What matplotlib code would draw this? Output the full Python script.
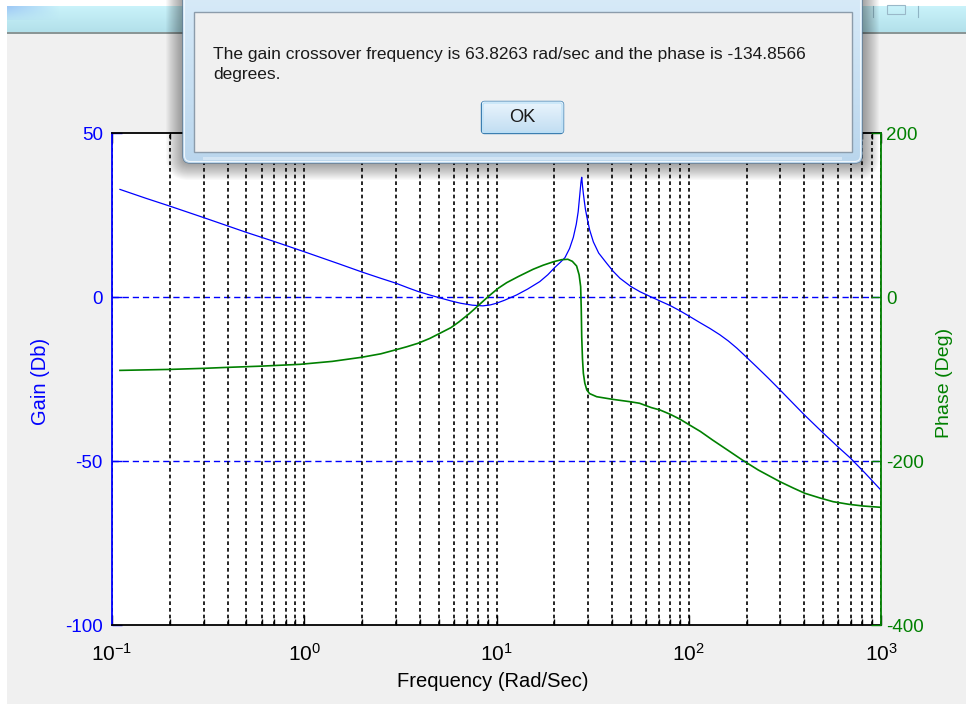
import matplotlib
matplotlib.use("Agg")
import numpy as np
import matplotlib.pyplot as plt
from matplotlib.patches import Rectangle, FancyBboxPatch
from matplotlib.ticker import FixedLocator, LogLocator, NullFormatter

# Open-loop frequency response (rad/s, dB, degrees)
freq_gain = [0.11, 0.15, 0.2, 0.3, 0.5, 0.7, 1.0, 1.5, 2.0, 2.5, 3.0, 3.5,
             3.9, 4.5, 5.1, 5.8, 6.5, 7.5, 8.5, 9.3, 10.0, 11.0, 12.7, 14.5,
             16.8, 18.5, 20.1, 21.5, 22.7, 24.0, 25.1, 26.0, 26.6, 27.1,
             27.5, 27.75, 28.0, 28.3, 28.6, 29.0, 29.5, 30.5, 31.9, 34.0,
             37.4, 40.5, 43.9, 50.0, 55.8, 63.83, 72.0, 80.0, 90.0, 101.5,
             115.0, 129.0, 145.0, 160.6, 178.0, 196.0, 225.6, 260.0, 298.0,
             350.0, 402.0, 501.0, 600.0, 690.0, 830.0, 1000.0]
gain_db = [32.8, 30.1, 27.7, 24.2, 19.7, 16.9, 13.8, 10.2, 7.6, 5.7, 4.2,
           2.7, 1.7, 0.6, -0.3, -1.2, -1.9, -2.5, -2.7, -2.4, -1.9, -1.0,
           0.6, 2.4, 4.7, 6.8, 9.0, 10.6, 12.0, 14.8, 18.2, 22.2, 26.0,
           31.0, 35.0, 36.5, 34.0, 31.5, 29.4, 26.8, 24.5, 20.5, 16.8, 13.4,
           10.3, 7.8, 5.7, 3.2, 1.6, 0.0, -1.4, -2.6, -4.2, -6.0, -7.9,
           -9.6, -11.5, -13.4, -15.6, -17.9, -21.3, -24.8, -28.3, -32.5,
           -36.1, -41.5, -45.8, -49.0, -53.8, -58.9]

freq_phase = [0.11, 0.2, 0.3, 0.4, 0.6, 0.95, 1.4, 1.99, 2.5, 2.97, 3.4,
              3.9, 4.5, 5.1, 5.8, 6.4, 7.2, 8.1, 9.0, 10.2, 11.3, 13.0,
              15.5, 17.5, 19.8, 21.8, 23.5, 24.8, 26.1, 26.9, 27.4, 27.6,
              27.75, 28.0, 28.3, 28.8, 29.5, 30.5, 33.2, 40.2, 49.5, 55.5,
              63.83, 70.9, 80.0, 90.0, 101.0, 115.0, 133.0, 160.0, 190.0,
              230.0, 298.0, 350.0, 402.0, 480.0, 563.0, 680.0, 808.0, 1000.0]
phase_deg = [-89.5, -88.3, -87.0, -85.8, -84.3, -82.1, -78.5, -73.5, -69.3,
             -64.6, -60.8, -56.5, -50.5, -44.0, -37.3, -30.1, -20.5, -9.8,
             0.0, 10.6, 17.5, 25.0, 33.8, 38.8, 43.0, 45.5, 46.0, 43.5, 37.8,
             27.0, 12.6, -15.0, -48.4, -75.0, -93.0, -105.0, -113.4, -117.8,
             -121.6, -124.8, -127.7, -129.6, -134.86, -137.8, -143.0, -149.0,
             -156.1, -164.0, -174.4, -187.0, -198.8, -211.0, -225.2, -233.0,
             -239.4, -245.0, -249.6, -252.8, -254.9, -256.5]

gain_ticks = [-100, -50, 0, 50]
phase_ticks = [-400, -200, 0, 200]
decades = [0.1, 1, 10, 100, 1000]

message = ["The gain crossover frequency is 63.8263 rad/sec and the phase is -134.8566",
           "degrees."]
button_text = "OK"

BLUE = "#0000ff"
GREEN = "#008000"
BG = "#f0f0f0"

plt.rcParams["font.family"] = ["Liberation Sans", "DejaVu Sans"]
plt.rcParams["mathtext.fontset"] = "custom"
plt.rcParams["mathtext.rm"] = "Liberation Sans"
plt.rcParams["mathtext.it"] = "Liberation Sans:italic"
plt.rcParams["mathtext.bf"] = "Liberation Sans:bold"
plt.rcParams["axes.unicode_minus"] = False

W, H = 966, 704
fig = plt.figure(figsize=(W / 100, H / 100), dpi=100, facecolor=BG)

# ---- gain axes (left) ----
ax = fig.add_axes([112 / W, 1 - 625 / H, 769 / W, 492 / H])
ax.set_xscale("log")
ax.set_xlim(0.1, 1000)
ax.set_ylim(-100, 50)
ax.xaxis.set_major_locator(FixedLocator(decades))
ax.xaxis.set_minor_locator(LogLocator(base=10, subs=range(2, 10), numticks=20))
ax.xaxis.set_minor_formatter(NullFormatter())
ax.set_yticks(gain_ticks)

# vertical grid at every decade and sub-decade, horizontal grid at interior gain ticks
ax.grid(True, which="both", axis="x", color="k", linestyle=(0, (2.2, 1.8)), lw=1.2)
for g in gain_ticks[1:-1]:
    ax.axhline(g, color=BLUE, linestyle=(0, (4.5, 2.8)), lw=1.0, zorder=1.5)

ax.tick_params(axis="x", which="both", direction="in", top=True, bottom=True,
               colors="k", labelsize=15, pad=13, width=1)
ax.tick_params(axis="x", which="major", length=7)
ax.tick_params(axis="x", which="minor", length=4)
ax.tick_params(axis="y", which="both", direction="in", left=True, right=False,
               color=BLUE, labelcolor=BLUE, labelsize=13.5, pad=6.5, length=7, width=1)

for side in ("top", "bottom"):
    ax.spines[side].set_color("k")
    ax.spines[side].set_linewidth(1.3)
ax.spines["left"].set_color(BLUE)
ax.spines["left"].set_linewidth(1.3)
ax.spines["right"].set_visible(False)

ax.plot(freq_gain, gain_db, color=BLUE, lw=0.9)

ax.set_xlabel("Frequency (Rad/Sec)", fontsize=14.5, va="center")
ax.xaxis.set_label_coords(0.4954, -0.114)
ax.set_ylabel("Gain (Db)", fontsize=14.5, color=BLUE, va="center")
ax.yaxis.set_label_coords(-0.093, 0.496)

# ---- phase axes (right) ----
ax2 = ax.twinx()
ax2.set_ylim(-400, 200)
ax2.set_yticks(phase_ticks)
ax2.tick_params(axis="y", direction="in", color=GREEN, labelcolor=GREEN,
                labelsize=13.5, pad=3.5, length=7, width=1)
for side in ("top", "bottom", "left"):
    ax2.spines[side].set_visible(False)
ax2.spines["right"].set_color(GREEN)
ax2.spines["right"].set_linewidth(1.3)
ax2.plot(freq_phase, phase_deg, color=GREEN, lw=1.2)
ax2.set_ylabel("Phase (Deg)", fontsize=14, color=GREEN, va="center", rotation=90)
ax2.yaxis.set_label_coords(1.082, 0.492)

# ---- window chrome and message box drawn on a pixel-space overlay ----
ov = fig.add_axes([0, 0, 1, 1], zorder=20)
ov.set_xlim(0, W)
ov.set_ylim(H, 0)
ov.axis("off")
ov.patch.set_visible(False)

# window border strips
ov.add_patch(Rectangle((0, 0), 7, H, facecolor="white", edgecolor="none", zorder=1))
ov.add_patch(Rectangle((0, 0), W, 6, facecolor="white", edgecolor="none", zorder=1))

# title bar of the figure window
grad = np.linspace(0, 1, 64)[:, None]
top_c = np.array([0.79, 0.95, 0.98])
bot_c = np.array([0.70, 0.88, 0.92])
bar = top_c[None, None, :] * (1 - grad[..., None]) + bot_c[None, None, :] * grad[..., None]
bar = np.repeat(bar, 4, axis=1)
ov.imshow(bar, extent=(7, W, 32, 6), aspect="auto", zorder=2, interpolation="bilinear")
glow = np.zeros((8, 32, 4))
glow[..., 0], glow[..., 1], glow[..., 2] = 0.55, 0.72, 0.96
glow[..., 3] = np.linspace(0.7, 0, 32)[None, :] * np.linspace(1, 0.2, 8)[:, None]
ov.imshow(glow, extent=(7, 60, 20, 6), aspect="auto", zorder=2.1, interpolation="bilinear")
ov.add_patch(Rectangle((7, 32), W - 7, 2, facecolor="#8a9696", edgecolor="none", zorder=3))
for xv in (873, 918):
    ov.plot([xv, xv], [6, 17], color="#8fb4c4", lw=0.8, zorder=3)
ov.add_patch(Rectangle((887, 5), 18, 9, facecolor="none", edgecolor="#9ab8c8", lw=0.8, zorder=3))

# soft shadow around the dialog
dx0, dx1, dy1 = 183, 862, 163
for k in range(1, 18):
    ov.add_patch(FancyBboxPatch((dx0 - k, -30), (dx1 - dx0) + 2 * k, dy1 + 30 + k,
                                boxstyle="round,pad=0,rounding_size=%d" % (6 + k),
                                facecolor="black", edgecolor="none", alpha=0.022, zorder=4))

# dialog frame (glass)
frame = FancyBboxPatch((dx0, -30), dx1 - dx0, dy1 + 30,
                       boxstyle="round,pad=0,rounding_size=7",
                       facecolor="#c8def0", edgecolor="#5f7d98", lw=1.0, zorder=5)
ov.add_patch(frame)
fg = np.linspace(0, 1, 64)[:, None]
fc_top = np.array([0.86, 0.93, 0.98])
fc_bot = np.array([0.73, 0.84, 0.93])
fimg = fc_top[None, None, :] * (1 - fg[..., None]) + fc_bot[None, None, :] * fg[..., None]
fimg = np.repeat(fimg, 4, axis=1)
im = ov.imshow(fimg, extent=(dx0, dx1, dy1, -30), aspect="auto", zorder=5.1,
               interpolation="bilinear")
im.set_clip_path(frame)
ov.add_patch(FancyBboxPatch((dx0 + 1.5, -30), dx1 - dx0 - 3, dy1 + 28.5,
                            boxstyle="round,pad=0,rounding_size=6",
                            facecolor="none", edgecolor="#eef6fc", lw=0.8, zorder=5.2))
ov.add_patch(Rectangle((dx0 + 20, 157), dx1 - dx0 - 40, 3, facecolor="#e4f0fa",
                       edgecolor="none", alpha=0.6, zorder=5.2))

# dialog client area
ov.add_patch(Rectangle((193.5, 11.5), 658, 140, facecolor=BG, edgecolor="#8c9cab",
                       lw=1.0, zorder=6))

# message text, fitted to the client area width
fig.canvas.draw()
renderer = fig.canvas.get_renderer()
t1 = ov.text(213, 55, message[0], fontsize=10, color="#1a1a1a", va="center",
             ha="left", zorder=7)
w1 = t1.get_window_extent(renderer).width
fs = 10 * 593 / w1
t1.set_fontsize(fs)
ov.text(213, 75, message[1], fontsize=fs, color="#1a1a1a", va="center",
        ha="left", zorder=7)

# OK button
btn = FancyBboxPatch((481.5, 101.5), 82, 32, boxstyle="round,pad=0,rounding_size=3",
                     facecolor="#dcecf8", edgecolor="#3c7fb1", lw=1.0, zorder=7)
ov.add_patch(btn)
bg_ = np.linspace(0, 1, 32)[:, None]
b_top = np.array([0.92, 0.96, 0.99])
b_bot = np.array([0.76, 0.87, 0.95])
bimg = b_top[None, None, :] * (1 - bg_[..., None]) + b_bot[None, None, :] * bg_[..., None]
bimg = np.repeat(bimg, 4, axis=1)
bim = ov.imshow(bimg, extent=(481.5, 563.5, 133.5, 101.5), aspect="auto", zorder=7.1,
                interpolation="bilinear")
bim.set_clip_path(btn)
ov.add_patch(FancyBboxPatch((483, 103), 79, 29, boxstyle="round,pad=0,rounding_size=2",
                            facecolor="none", edgecolor="#b8e0f8", lw=0.8, zorder=7.2))
ov.text(522.5, 118, button_text, fontsize=fs * 1.05, color="#1a1a1a", ha="center",
        va="center", zorder=8)

fig.savefig("out.png", dpi=100, facecolor=BG)
